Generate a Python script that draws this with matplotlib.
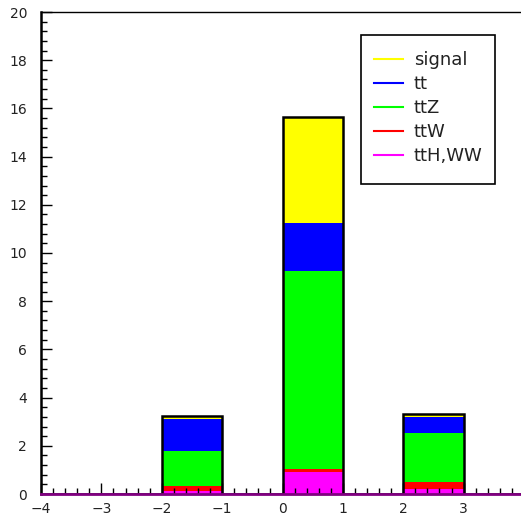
import numpy as np
import matplotlib.pyplot as plt
from matplotlib.lines import Line2D
from matplotlib.patches import Rectangle
from matplotlib.ticker import MultipleLocator

# ========= data (bin contents, stacked bottom -> top) =========
bin_edges = [-4, -3, -2, -1, 0, 1, 2, 3, 4]
tth_ww = [0, 0, 0.13, 0, 0.91, 0, 0.20, 0]
ttw = [0, 0, 0.22, 0, 0.12, 0, 0.31, 0]
ttz = [0, 0, 1.45, 0, 8.22, 0, 2.01, 0]
tt = [0, 0, 1.32, 0, 2.00, 0, 0.66, 0]
signal = [0, 0, 0.12, 0, 4.40, 0, 0.13, 0]

labels = ["signal", "tt", "ttZ", "ttW", "ttH,WW"]
colors = ["#ffff00", "#0000ff", "#00ff00", "#ff0000", "#ff00ff"]
xtick_values = [-4, -3, -2, -1, 0, 1, 2, 3]

plt.rcParams.update({"font.family": "DejaVu Sans", "font.size": 10})

W, H = 521, 517
fig = plt.figure(figsize=(W / 100, H / 100), dpi=100)
ax = fig.add_axes([41 / W, (H - 494) / H, 483 / W, (494 - 12) / H])

edges = np.array(bin_edges, dtype=float)
stack = [tth_ww, ttw, ttz, tt, signal]
stack_colors = colors[::-1]
base = np.zeros(len(edges) - 1)
for vals, c in zip(stack, stack_colors):
    vals = np.array(vals, dtype=float)
    ax.stairs(base + vals, edges, baseline=base, fill=True, color=c, lw=0, zorder=1)
    base = base + vals

# outline of the full stack
ax.stairs(base, edges, color="black", lw=1.8, zorder=1.2)

ax.set_xlim(-4, 4)
ax.set_ylim(0, 20)
ax.set_xticks(xtick_values)
ax.xaxis.set_minor_locator(MultipleLocator(0.2))
ax.yaxis.set_major_locator(MultipleLocator(2))
ax.yaxis.set_minor_locator(MultipleLocator(0.4))
ax.tick_params(which="both", direction="in", top=False, right=False, width=1, colors="black")
ax.tick_params(which="major", length=8)
ax.tick_params(which="minor", length=4)
ax.tick_params(axis="both", which="major", labelcolor="#222222")
ax.tick_params(axis="y", which="major", pad=10, labelsize=10)
ax.tick_params(axis="x", which="major", pad=6, labelsize=10)

ax.spines["right"].set_visible(False)
ax.spines["left"].set_linewidth(1.8)
ax.spines["top"].set_linewidth(1.0)
ax.spines["bottom"].set_color("#800080")
ax.spines["bottom"].set_linewidth(2.0)

# legend box
fig.patches.append(Rectangle((361 / W, 1 - 184 / H), (495 - 361) / W, (184 - 35) / H,
                             transform=fig.transFigure, fill=False, ec="black", lw=1.2))
handles = [Line2D([], [], color=c, lw=1.5) for c in colors]
fig.legend(handles, labels, loc="upper left", bbox_to_anchor=(365 / W, 1 - 42 / H),
           bbox_transform=fig.transFigure, frameon=False, fontsize=13,
           handlelength=1.6, handletextpad=0.6, labelspacing=0.33, borderpad=0,
           labelcolor="#222222")

fig.savefig("out.png", dpi=100)
